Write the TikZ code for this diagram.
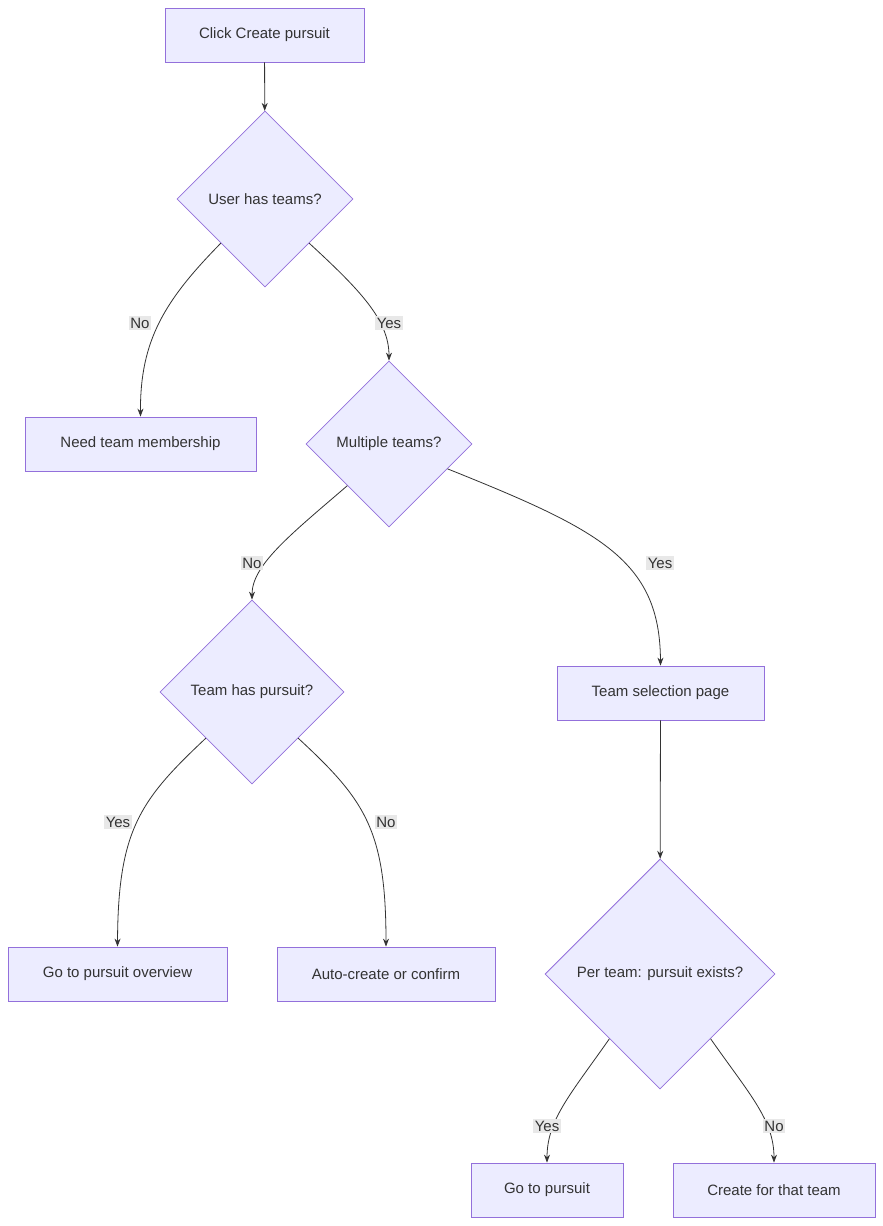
\documentclass[tikz,border=0pt]{standalone}
\usepackage{fontspec}
\setmainfont{Liberation Sans}
\usetikzlibrary{shapes.geometric,arrows.meta}
\definecolor{nodefill}{HTML}{ECECFF}
\definecolor{nodeline}{HTML}{9370DB}
\definecolor{txt}{HTML}{333333}
\definecolor{lblbg}{HTML}{E8E8E8}
\begin{document}
\begin{tikzpicture}[x=1pt,y=-1pt,
  every node/.style={font=\fontsize{15}{18}\selectfont, text=txt},
  box/.style={draw=nodeline, fill=nodefill, line width=0.8pt, minimum height=54pt, inner sep=0pt},
  dia/.style={diamond, draw=nodeline, fill=nodefill, line width=0.8pt, inner sep=0pt},
  conn/.style={draw=txt, line width=0.8pt, -{Stealth[length=8pt,width=6pt]}},
  lbl/.style={fill=lblbg, inner sep=1.5pt}]
\useasboundingbox (0,0) rectangle (883,1226);
\fill[white] (0,0) rectangle (883,1226);
\node[box, minimum width=199pt] (A) at (264.5,35) {Click Create pursuit};
\node[dia, minimum width=176pt, minimum height=176pt] (B) at (265,199) {User has teams?};
\node[box, minimum width=231pt] (C) at (140.5,444) {Need team membership};
\node[dia, minimum width=166pt, minimum height=166pt] (D) at (389,444) {Multiple teams?};
\node[dia, minimum width=184pt, minimum height=184pt] (E) at (252,692) {Team has pursuit?};
\node[box, minimum width=207pt] (F) at (660.5,693) {Team selection page};
\node[box, minimum width=219pt] (G) at (117.5,974) {Go to pursuit overview};
\node[box, minimum width=218pt] (H) at (386,974) {Auto-create or confirm};
\node[dia, minimum width=230pt, minimum height=230pt] (I) at (660,974) {Per team: pursuit exists?};
\node[box, minimum width=152pt] (J) at (547,1190) {Go to pursuit};
\node[box, minimum width=202pt] (K) at (774,1190) {Create for that team};

\draw[conn] (A) -- (B);
\draw[conn] (B.-135) .. controls (165,300) and (140,340) .. (C.north);
\draw[conn] (B.-45) .. controls (360,290) and (389,320) .. (D.north);
\draw[conn] (D.-135) .. controls (290,535) and (252,565) .. (E.north);
\draw[conn] (D.-23) .. controls (600,530) and (660,560) .. (F.north);
\draw[conn] (E.-135) .. controls (140,800) and (118,830) .. (G.north);
\draw[conn] (E.-45) .. controls (365,800) and (386,830) .. (H.north);
\draw[conn] (F) -- (I);
\draw[conn] (I.-128) .. controls (570,1095) and (547,1120) .. (J.north);
\draw[conn] (I.-52) .. controls (750,1095) and (774,1120) .. (K.north);

\node[lbl] (l1) at (140,323) {No};
\node[lbl] (l2) at (389,323) {Yes};
\node[lbl] (l3) at (252,563) {No};
\node[lbl] (l4) at (660,563) {Yes};
\node[lbl] (l5) at (118,822) {Yes};
\node[lbl] (l6) at (386,822) {No};
\node[lbl] (l7) at (547,1126) {Yes};
\node[lbl] (l8) at (774,1126) {No};
\end{tikzpicture}
\end{document}
